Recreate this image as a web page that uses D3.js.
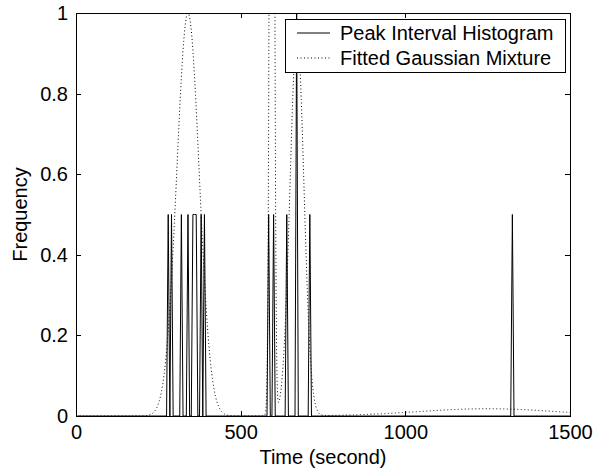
<!DOCTYPE html>
<html>
<head>
<meta charset="utf-8">
<script src="https://cdn.jsdelivr.net/npm/d3@7"></script>
<style>
  body { margin: 0; background: #fff; }
  svg text { font-family: "Liberation Sans", Arial, Helvetica, sans-serif; fill: #000; }
  .axis path, .axis line { stroke: #000; stroke-width: 1; shape-rendering: crispEdges; }
</style>
</head>
<body>
<div id="chart"></div>
<script>
/*
 * Peak interval histogram with fitted Gaussian mixture.
 */

// Histogram: non-empty bins (seconds) and their normalised frequency.
var binWidth = 5;
var histBins = [280, 290, 320, 340, 355, 360, 365, 380, 390, 585, 600, 640, 670, 710, 1325];
var histFreq = [0.5, 0.5, 0.5, 0.5, 0.5, 0.5, 0.5, 0.5, 0.5, 0.5, 0.5, 0.5, 1.0, 0.5, 0.5];

// Fitted mixture components (mean, sigma, peak height).
var mixMeans = [340, 595, 671, 1250];
var mixSigmas = [34, 5.6, 21, 210];
var mixPeaks = [1.0, 3.7, 0.95, 0.018];

// Axis ticks and legend.
var xTicks = [0, 500, 1000, 1500];
var yTicks = [0, 0.2, 0.4, 0.6, 0.8, 1];
var legendLabels = ['Peak Interval Histogram', 'Fitted Gaussian Mixture'];

var width = 595, height = 468;
var margin = { top: 13, right: 25, bottom: 52, left: 76 };
var innerW = width - margin.left - margin.right;
var innerH = height - margin.top - margin.bottom;
var fontSize = 20;

var svg = d3.select('#chart').append('svg')
  .attr('width', width)
  .attr('height', height);

var g = svg.append('g')
  .attr('transform', 'translate(' + margin.left + ',' + margin.top + ')');

var x = d3.scaleLinear().domain([0, 1500]).range([0, innerW]);
var y = d3.scaleLinear().domain([0, 1]).range([innerH, 0]);

// Clip to the axes box.
svg.append('defs').append('clipPath').attr('id', 'clip')
  .append('rect').attr('width', innerW).attr('height', innerH);

var plot = g.append('g').attr('clip-path', 'url(#clip)');

// Histogram series on the full bin grid, zero where no counts.
var lookup = {};
histBins.forEach(function(b, i) { lookup[b] = histFreq[i]; });
var histPts = d3.range(0, 1500 + binWidth, binWidth).map(function(t) {
  return [t, lookup[t] || 0];
});

// Mixture curve, evaluated from the fitted components.
var mixPts = d3.range(0, 1501, 1).map(function(t) {
  var v = 0;
  mixMeans.forEach(function(m, i) {
    var z = (t - m) / mixSigmas[i];
    v += mixPeaks[i] * Math.exp(-0.5 * z * z);
  });
  return [t, v];
});

var line = d3.line()
  .x(function(d) { return x(d[0]); })
  .y(function(d) { return y(d[1]); });

plot.append('path')
  .datum(mixPts)
  .attr('d', line)
  .attr('fill', 'none')
  .attr('stroke', '#000')
  .attr('stroke-width', 1)
  .attr('stroke-dasharray', '1,2.5');

plot.append('path')
  .datum(histPts)
  .attr('d', line)
  .attr('fill', 'none')
  .attr('stroke', '#000')
  .attr('stroke-width', 1);

// Axes, ticks pointing inward.
var fmt = function(d) { return d; };

g.append('g').attr('class', 'axis')
  .attr('transform', 'translate(0,' + innerH + ')')
  .call(d3.axisBottom(x).tickValues(xTicks).tickFormat(fmt).tickSizeInner(-5).tickSizeOuter(0).tickPadding(7))
  .call(function(a) { a.selectAll('text').attr('dy', '0.8em'); });

g.append('g').attr('class', 'axis')
  .call(d3.axisTop(x).tickValues(xTicks).tickFormat('').tickSizeInner(-5).tickSizeOuter(0));

g.append('g').attr('class', 'axis')
  .call(d3.axisLeft(y).tickValues(yTicks).tickFormat(fmt).tickSizeInner(-5).tickSizeOuter(0).tickPadding(8));

g.append('g').attr('class', 'axis')
  .attr('transform', 'translate(' + innerW + ',0)')
  .call(d3.axisRight(y).tickValues(yTicks).tickFormat('').tickSizeInner(-5).tickSizeOuter(0));

g.selectAll('.axis').attr('font-family', null).attr('font-size', fontSize);

// Box.
g.append('rect')
  .attr('width', innerW)
  .attr('height', innerH)
  .attr('fill', 'none')
  .attr('stroke', '#000')
  .attr('shape-rendering', 'crispEdges');

// Axis labels.
svg.append('text')
  .attr('x', margin.left + innerW / 2)
  .attr('y', 464)
  .attr('text-anchor', 'middle')
  .attr('font-size', fontSize)
  .text('Time (second)');

svg.append('text')
  .attr('transform', 'translate(27,' + (margin.top + innerH / 2) + ') rotate(-90)')
  .attr('text-anchor', 'middle')
  .attr('font-size', fontSize)
  .text('Frequency');

// Legend.
var legend = svg.append('g').attr('transform', 'translate(285,19)');

legend.append('rect')
  .attr('width', 280)
  .attr('height', 53)
  .attr('fill', '#fff')
  .attr('stroke', '#000')
  .attr('shape-rendering', 'crispEdges');

var rows = legend.selectAll('g.row')
  .data(legendLabels)
  .enter().append('g')
  .attr('class', 'row')
  .attr('transform', function(d, i) { return 'translate(0,' + (14 + i * 25) + ')'; });

rows.append('line')
  .attr('x1', 12).attr('x2', 45)
  .attr('stroke', '#000')
  .attr('stroke-width', 1)
  .attr('stroke-dasharray', function(d, i) { return i ? '1,2.5' : null; });

rows.append('text')
  .attr('x', 55)
  .attr('dy', '0.35em')
  .attr('font-size', fontSize)
  .text(function(d) { return d; });
</script>
</body>
</html>
